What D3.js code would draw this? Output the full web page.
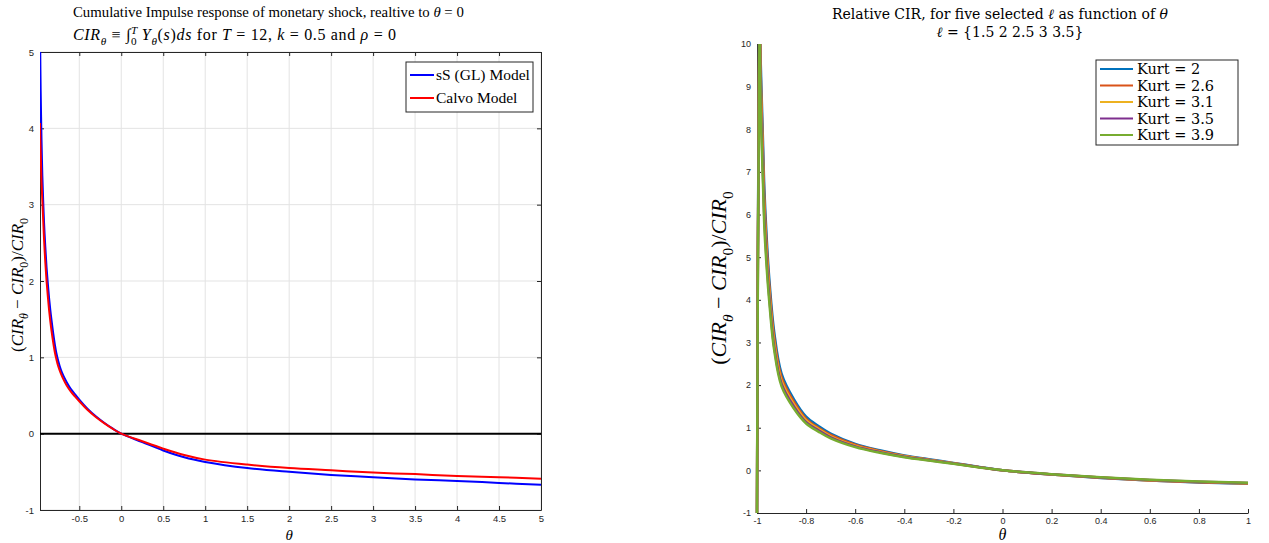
<!DOCTYPE html>
<html><head><meta charset="utf-8">
<script src="https://cdn.jsdelivr.net/npm/d3@7"></script>
<style>body{margin:0;background:#fff}svg{display:block}</style>
</head><body>
<svg id="chart" width="1269" height="543"></svg>
<script>
// ---------- LEFT PANEL DATA ----------
const leftTheta = [-0.968,-0.965,-0.96,-0.955,-0.95,-0.94,-0.93,-0.92,-0.905,-0.89,-0.875,-0.86,-0.845,-0.83,-0.81,-0.79,-0.774,-0.75,-0.72,-0.69,-0.65,-0.6,-0.55,-0.5,-0.4,-0.3,-0.2,-0.1,0,0.25,0.5,0.75,1,1.5,2,2.5,3,3.5,4,4.5,5];
const sSGL  = [5.4,5.0,4.5,4.15,3.85,3.38,3.05,2.77,2.45,2.18,1.97,1.78,1.62,1.48,1.31,1.16,1.06,0.95,0.84,0.76,0.675,0.585,0.515,0.447,0.325,0.225,0.14,0.065,0,-0.11,-0.22,-0.31,-0.37,-0.45,-0.5,-0.54,-0.57,-0.6,-0.62,-0.645,-0.67];
const calvo = [4.07,3.9,3.7,3.5,3.3,3.05,2.8,2.55,2.25,2.0,1.8,1.62,1.47,1.34,1.19,1.06,0.98,0.88,0.79,0.715,0.63,0.55,0.485,0.425,0.31,0.215,0.135,0.062,0,-0.1,-0.196,-0.28,-0.34,-0.405,-0.45,-0.48,-0.51,-0.53,-0.555,-0.57,-0.59];
const leftXTicks = [-0.5,0,0.5,1,1.5,2,2.5,3,3.5,4,4.5,5];
const leftYTicks = [-1,0,1,2,3,4,5];
const leftLegend = ["sS (GL) Model","Calvo Model"];

// ---------- RIGHT PANEL DATA ----------
const rightTheta = [-1,-0.99,-0.985,-0.98,-0.975,-0.97,-0.96,-0.95,-0.93,-0.9,-0.85,-0.8,-0.75,-0.7,-0.6,-0.5,-0.4,-0.3,-0.2,-0.1,0,0.2,0.4,0.6,0.8,1];
const kurt2  = [-1,11.5,9.6,8.6,7.6,6.6,5.4,4.5,3.25,2.27,1.67,1.26,1.04,0.86,0.62,0.47,0.35,0.26,0.175,0.085,0,-0.1,-0.18,-0.24,-0.285,-0.315];
const kurt26 = [-1,11.2,9.3,8.3,7.3,6.35,5.2,4.35,3.12,2.18,1.61,1.21,1.0,0.83,0.6,0.455,0.34,0.252,0.17,0.082,0,-0.097,-0.175,-0.235,-0.277,-0.307];
const kurt31 = [-1,10.9,9.0,8.0,7.0,6.1,5.0,4.2,3.0,2.1,1.55,1.17,0.97,0.8,0.58,0.44,0.33,0.245,0.165,0.08,0,-0.095,-0.17,-0.23,-0.27,-0.3];
const kurt35 = [-1,10.6,8.7,7.75,6.8,5.9,4.85,4.07,2.9,2.03,1.5,1.13,0.94,0.775,0.563,0.427,0.32,0.238,0.16,0.078,0,-0.093,-0.166,-0.225,-0.265,-0.295];
const kurt39 = [-1,10.3,8.45,7.5,6.6,5.7,4.7,3.95,2.82,1.97,1.45,1.1,0.91,0.75,0.545,0.413,0.31,0.23,0.155,0.075,0,-0.09,-0.162,-0.22,-0.26,-0.29];
const kurtLabels = ["2","2.6","3.1","3.5","3.9"];
const rightXTicks = [-1,-0.8,-0.6,-0.4,-0.2,0,0.2,0.4,0.6,0.8,1];
const rightYTicks = [-1,0,1,2,3,4,5,6,7,8,9,10];

const svg = d3.select("#chart");
const SERIF = "'Liberation Serif','DejaVu Serif',serif";
const DSERIF = "'DejaVu Serif','Liberation Serif',serif";
const SANS = "'Liberation Sans',Arial,sans-serif";
const AX = "#262626";

function rich(sel, parts, size) {
  let base = 0;
  parts.forEach(p => {
    const ts = sel.append("tspan").text(p.t);
    let target = 0, fs = size;
    if (p.s === "sub") { target = size*0.3; fs = size*0.7; }
    if (p.s === "sup") { target = -size*0.4; fs = size*0.7; }
    ts.attr("dy", target - base).attr("font-size", fs);
    if (p.i) ts.attr("font-style", "italic");
    if (p.dx) ts.attr("dx", p.dx);
    base = target;
  });
}
function styleAxis(g, fs) {
  g.select(".domain").attr("stroke",AX).attr("stroke-width",1);
  g.selectAll(".tick line").attr("stroke",AX);
  g.selectAll(".tick text").attr("fill",AX).attr("font-family",SANS).attr("font-size",fs);
}
const fmt = d => String(d);
const smooth = d3.line().curve(d3.curveCatmullRom.alpha(0.5));

// ================= LEFT PANEL =================
const L = {x0:40, x1:541, y0:52, y1:510};
const lx = d3.scaleLinear().domain([-0.968,5]).range([L.x0,L.x1]);
const ly = d3.scaleLinear().domain([-1,5]).range([L.y1,L.y0]);
const gl = svg.append("g");
svg.append("clipPath").attr("id","clipL").append("rect").attr("x",L.x0).attr("y",L.y0).attr("width",L.x1-L.x0).attr("height",L.y1-L.y0);

gl.append("g").selectAll("line").data(leftXTicks).join("line")
  .attr("x1",d=>lx(d)).attr("x2",d=>lx(d)).attr("y1",L.y0).attr("y2",L.y1)
  .attr("stroke","#e3e3e3").attr("stroke-width",1);
gl.append("g").selectAll("line").data(leftYTicks).join("line")
  .attr("y1",d=>ly(d)).attr("y2",d=>ly(d)).attr("x1",L.x0).attr("x2",L.x1)
  .attr("stroke","#e3e3e3").attr("stroke-width",1);

gl.append("g").attr("transform",`translate(0,${L.y1})`)
  .call(d3.axisBottom(lx).tickValues(leftXTicks).tickFormat(fmt).tickSizeInner(-4).tickSizeOuter(0).tickPadding(5))
  .call(g=>styleAxis(g,9.5));
gl.append("g").attr("transform",`translate(0,${L.y0})`)
  .call(d3.axisTop(lx).tickValues(leftXTicks).tickFormat("").tickSizeInner(-4).tickSizeOuter(0))
  .call(g=>styleAxis(g,9.5));
gl.append("g").attr("transform",`translate(${L.x0},0)`)
  .call(d3.axisLeft(ly).tickValues(leftYTicks).tickFormat(fmt).tickSizeInner(-4).tickSizeOuter(0).tickPadding(6))
  .call(g=>styleAxis(g,9.5));
gl.append("g").attr("transform",`translate(${L.x1},0)`)
  .call(d3.axisRight(ly).tickValues(leftYTicks).tickFormat("").tickSizeInner(-4).tickSizeOuter(0))
  .call(g=>styleAxis(g,9.5));

gl.append("line").attr("x1",L.x0).attr("x2",L.x1).attr("y1",ly(0)).attr("y2",ly(0))
  .attr("stroke","#000").attr("stroke-width",2);

const lc = gl.append("g").attr("clip-path","url(#clipL)");
lc.append("path").attr("d", smooth(leftTheta.map((t,i)=>[lx(t),ly(sSGL[i])])))
  .attr("fill","none").attr("stroke","#0000ff").attr("stroke-width",2);
lc.append("path").attr("d", smooth(leftTheta.map((t,i)=>[lx(t),ly(calvo[i])])))
  .attr("fill","none").attr("stroke","#ff0000").attr("stroke-width",2);

const lg = gl.append("g");
lg.append("rect").attr("x",406).attr("y",62).attr("width",127).attr("height",50)
  .attr("fill","#fff").attr("stroke",AX).attr("stroke-width",1);
[["#0000ff",leftLegend[0]],["#ff0000",leftLegend[1]]].forEach((d,i)=>{
  const yy = 75 + i*23;
  lg.append("line").attr("x1",410).attr("x2",434).attr("y1",yy).attr("y2",yy).attr("stroke",d[0]).attr("stroke-width",2);
  lg.append("text").attr("x",436).attr("y",yy+5).attr("font-family",SERIF).attr("font-size",15.5).attr("fill","#000").text(d[1]);
});

const t1 = svg.append("text").attr("x",73).attr("y",17).attr("font-family",SERIF).attr("font-size",14.8).attr("fill","#000");
rich(t1,[{t:"Cumulative Impulse response of monetary shock, realtive to "},{t:"θ",i:1},{t:" = 0"}],14.8);
const t2 = svg.append("text").attr("x",73).attr("y",40).attr("font-family",SERIF).attr("font-size",16).attr("fill","#000")
  .attr("textLength",323).attr("lengthAdjust","spacing");
rich(t2,[{t:"CIR",i:1},{t:"θ",i:1,s:"sub"},{t:" ≡ ∫"},{t:"T",i:1,s:"sup"},{t:"0",s:"sub",dx:-7},{t:" Y",i:1},{t:"θ",i:1,s:"sub"},{t:"("},{t:"s",i:1},{t:")"},{t:"ds",i:1},{t:" for "},{t:"T",i:1},{t:" = 12, "},{t:"k",i:1},{t:" = 0.5 and "},{t:"ρ",i:1},{t:" = 0"}],16);

const yl = svg.append("text").attr("transform","translate(23,285) rotate(-90)").attr("text-anchor","middle")
  .attr("font-family",SERIF).attr("font-size",17).attr("fill","#000");
rich(yl,[{t:"("},{t:"CIR",i:1},{t:"θ",i:1,s:"sub"},{t:" − "},{t:"CIR",i:1},{t:"0",s:"sub"},{t:")/"},{t:"CIR",i:1},{t:"0",s:"sub"}],17);
svg.append("text").attr("x",lx(2)).attr("y",540).attr("text-anchor","middle").attr("font-family",SERIF)
  .attr("font-style","italic").attr("font-size",15).attr("fill","#000").text("θ");

// ================= RIGHT PANEL =================
const R = {x0:757, x1:1248, y0:44, y1:513};
const rx = d3.scaleLinear().domain([-1,1]).range([R.x0,R.x1]);
const ry = d3.scaleLinear().domain([-1,10]).range([R.y1,R.y0]);
const gr = svg.append("g");
svg.append("clipPath").attr("id","clipR").append("rect").attr("x",R.x0-3).attr("y",R.y0).attr("width",R.x1-R.x0+6).attr("height",R.y1-R.y0);

gr.append("g").attr("transform",`translate(0,${R.y1})`)
  .call(d3.axisBottom(rx).tickValues(rightXTicks).tickFormat(fmt).tickSizeInner(-4).tickSizeOuter(0).tickPadding(5))
  .call(g=>styleAxis(g,9));
gr.append("g").attr("transform",`translate(${R.x0},0)`)
  .call(d3.axisLeft(ry).tickValues(rightYTicks).tickFormat(fmt).tickSizeInner(-4).tickSizeOuter(0).tickPadding(6))
  .call(g=>styleAxis(g,9));

const series = [kurt2,kurt26,kurt31,kurt35,kurt39];
const colors = ["#0072BD","#D95319","#EDB120","#7E2F8E","#77AC30"];
const rc = gr.append("g").attr("clip-path","url(#clipR)");
series.forEach((s,k)=>{
  rc.append("path").attr("d", smooth(rightTheta.map((t,i)=>[rx(t),ry(s[i])])))
    .attr("fill","none").attr("stroke",colors[k]).attr("stroke-width",2.5);
});

const rg = gr.append("g");
rg.append("rect").attr("x",1096).attr("y",60).attr("width",142).attr("height",85)
  .attr("fill","#fff").attr("stroke",AX).attr("stroke-width",1);
kurtLabels.forEach((lab,i)=>{
  const yy = 69 + i*16.5;
  rg.append("line").attr("x1",1100).attr("x2",1133).attr("y1",yy).attr("y2",yy).attr("stroke",colors[i]).attr("stroke-width",2);
  rg.append("text").attr("x",1137).attr("y",yy+5).attr("font-family",DSERIF).attr("font-size",14.5).attr("fill","#000")
    .text("Kurt = " + lab);
});

const r1 = svg.append("text").attr("x",1000).attr("y",19).attr("text-anchor","middle").attr("font-family",DSERIF).attr("font-size",14).attr("fill","#000");
rich(r1,[{t:"Relative CIR, for five selected "},{t:"ℓ",i:1},{t:" as function of "},{t:"θ",i:1}],14);
const r2 = svg.append("text").attr("x",1010).attr("y",37).attr("text-anchor","middle").attr("font-family",DSERIF).attr("font-size",14).attr("fill","#000");
rich(r2,[{t:"ℓ",i:1},{t:" = {1.5 2 2.5 3 3.5}"}],14);

const yr = svg.append("text").attr("transform","translate(726,278) rotate(-90)").attr("text-anchor","middle")
  .attr("font-family",SERIF).attr("font-size",22).attr("fill","#000");
rich(yr,[{t:"("},{t:"CIR",i:1},{t:"θ",i:1,s:"sub"},{t:" − "},{t:"CIR",i:1},{t:"0",s:"sub"},{t:")/"},{t:"CIR",i:1},{t:"0",s:"sub"}],22);
svg.append("text").attr("x",rx(0)).attr("y",540).attr("text-anchor","middle").attr("font-family",SERIF)
  .attr("font-style","italic").attr("font-size",16).attr("fill","#000").text("θ");
</script>
</body></html>
